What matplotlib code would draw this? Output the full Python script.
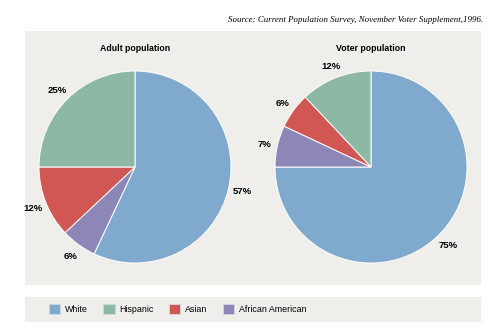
import matplotlib.pyplot as plt
from matplotlib.patches import Rectangle, Patch

# slices in clockwise order starting at 12 o'clock
groups = ['White', 'African American', 'Asian', 'Hispanic']
adult = [57, 6, 12, 25]
voter = [75, 7, 6, 12]
colors = {'White': '#7faacd', 'Hispanic': '#8db8a4', 'Asian': '#d05753', 'African American': '#8d87b7'}
legend_order = ['White', 'Hispanic', 'Asian', 'African American']

plt.rcParams['font.family'] = ['Liberation Sans', 'DejaVu Sans']
bg = '#efeeeb'

W, H = 499, 334
fig = plt.figure(figsize=(W / 100, H / 100), dpi=100)

# grey panels (pie area + legend strip)
fig.patches.append(Rectangle((25 / W, 1 - 285 / H), 456 / W, 254 / H,
                             transform=fig.transFigure, facecolor=bg, edgecolor='none', zorder=-5))
fig.patches.append(Rectangle((25 / W, 1 - 322 / H), 456 / W, 25 / H,
                             transform=fig.transFigure, facecolor=bg, edgecolor='none', zorder=-5))

fig.text(483 / W, 1 - 20 / H,
         'Source: Current Population Survey, November Voter Supplement,1996.',
         ha='right', va='center', fontsize=6.4, style='italic', family='Liberation Serif')


def draw_pie(cx, title, values):
    r = 96
    ax = fig.add_axes([(cx - r) / W, 1 - (167 + r) / H, 2 * r / W, 2 * r / H])
    wedges, texts = ax.pie(values, labels=[f'{v}%' for v in values],
                           colors=[colors[g] for g in groups],
                           startangle=90, counterclock=False, radius=1,
                           labeldistance=1.14,
                           wedgeprops=dict(edgecolor='white', linewidth=0.7),
                           textprops=dict(fontsize=6.8, fontweight='bold'))
    for t in texts:
        t.set_ha('center')
        t.set_va('center_baseline')
    ax.set_xlim(-1, 1)
    ax.set_ylim(-1, 1)
    ax.set_title(title, fontsize=6.3, fontweight='bold', pad=14.5)
    ax.set_facecolor('none')
    for s in ax.spines.values():
        s.set_visible(False)
    ax.set_xticks([])
    ax.set_yticks([])


draw_pie(135, 'Adult population', adult)
draw_pie(371, 'Voter population', voter)

handles = [Patch(facecolor=colors[g], edgecolor='#cfd9e3', linewidth=0.6, label=g) for g in legend_order]
fig.legend(handles=handles, loc='center left', bbox_to_anchor=(49 / W, 1 - 309 / H),
           ncol=4, frameon=False, fontsize=6.4, handlelength=1.25, handleheight=1.25,
           handletextpad=0.55, columnspacing=1.75, borderaxespad=0, borderpad=0)

fig.savefig('out.png', dpi=100, facecolor='white')
